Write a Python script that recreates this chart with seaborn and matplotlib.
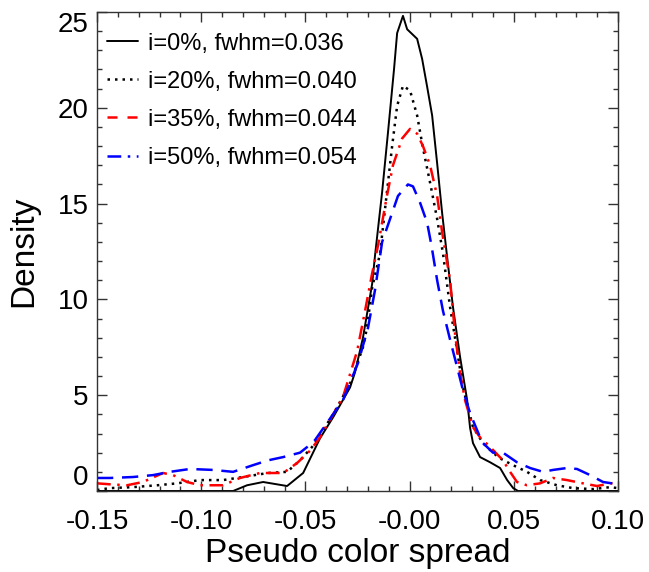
import numpy as np
import matplotlib
matplotlib.use("Agg")
import matplotlib.pyplot as plt
import seaborn as sns
import pandas as pd
from matplotlib.lines import Line2D

# ---------------------------------------------------
# Data (density curves)
# ---------------------------------------------------
labels = ["i=0%, fwhm=0.036", "i=20%, fwhm=0.040", "i=35%, fwhm=0.044", "i=50%, fwhm=0.054"]

x_i0 = [-0.15, -0.0847, -0.078, -0.0703, -0.0588, -0.0511, -0.043, -0.0367, -0.0286, -0.0262,
        -0.0224, -0.018, -0.0166, -0.0132, -0.0104, -0.0075, -0.006, -0.0032, -0.0012, 0.0036,
        0.006, 0.0084, 0.0108, 0.0132, 0.0156, 0.018, 0.0208, 0.0242, 0.0276, 0.029, 0.0304,
        0.0338, 0.0386, 0.0434, 0.0468, 0.0497, 0.052, 0.10]
y_i0 = [0.0, 0.0, 0.3, 0.47, 0.26, 0.94, 2.75, 3.85, 5.4, 6.2,
        8.0, 10.8, 12.3, 15.6, 18.7, 22.0, 23.9, 24.8, 24.1, 23.6,
        22.55, 21.1, 19.6, 17.1, 14.5, 12.2, 9.6, 7.0, 4.74, 3.3, 2.5,
        1.77, 1.5, 1.2, 0.57, 0.15, 0.0, 0.0]

x_i20 = [-0.15, -0.144, -0.133, -0.121, -0.1116, -0.1006, -0.0895, -0.08, -0.068, -0.0588,
         -0.0526, -0.0468, -0.0367, -0.0286, -0.0224, -0.0205, -0.018, -0.0142, -0.0109, -0.0084,
         -0.006, -0.0032, 0.0002, 0.0036, 0.0064, 0.0098, 0.0132, 0.016, 0.0194, 0.0228,
         0.0256, 0.0304, 0.0352, 0.04, 0.0434, 0.0496, 0.0563, 0.0626, 0.0707, 0.0784,
         0.088, 0.0962, 0.10]
y_i20 = [0.05, 0.15, 0.2, 0.3, 0.4, 0.57, 0.57, 0.73, 0.94, 1.0,
         1.6, 2.3, 4.0, 5.6, 7.5, 8.5, 10.6, 12.4, 15.6, 18.0,
         20.1, 21.15, 20.9, 19.6, 17.9, 16.1, 14.2, 12.4, 9.6, 7.3,
         5.4, 3.33, 2.5, 2.0, 1.7, 1.35, 1.0, 0.57, 0.3, 0.15,
         0.1, 0.2, 0.15]

x_i35 = [-0.15, -0.1438, -0.1356, -0.128, -0.1183, -0.1135, -0.1068, -0.1006, -0.0895, -0.0814,
         -0.0718, -0.0607, -0.054, -0.0478, -0.043, -0.032, -0.0252, -0.0214, -0.018, -0.0152,
         -0.0109, -0.008, -0.0036, 0.0002, 0.0036, 0.0064, 0.0098, 0.0132, 0.0156, 0.0194,
         0.0218, 0.0242, 0.0266, 0.0304, 0.0338, 0.0386, 0.0448, 0.0482, 0.0515, 0.0563,
         0.0626, 0.0688, 0.0755, 0.0832, 0.0899, 0.0947, 0.10]
y_i35 = [0.4, 0.35, 0.3, 0.47, 0.94, 0.83, 0.47, 0.3, 0.3, 0.68,
         0.94, 0.94, 1.46, 2.1, 2.8, 4.9, 7.3, 9.4, 11.35, 12.8,
         15.4, 17.0, 18.4, 18.9, 18.65, 18.0, 17.0, 15.4, 13.5, 11.0,
         8.2, 6.15, 4.74, 3.33, 2.8, 2.3, 1.6, 1.0, 0.47, 0.3,
         0.4, 0.68, 0.57, 0.4, 0.26, 0.36, 0.47]

x_i50 = [-0.15, -0.1438, -0.1327, -0.1231, -0.115, -0.1054, -0.0943, -0.0847, -0.0751, -0.068,
         -0.0607, -0.0526, -0.0468, -0.0454, -0.032, -0.0248, -0.02, -0.0166, -0.0132, -0.0094,
         -0.0056, -0.0008, 0.0016, 0.005, 0.0084, 0.0105, 0.0132, 0.016, 0.0194, 0.0228,
         0.0256, 0.029, 0.0338, 0.0352, 0.04, 0.0448, 0.0515, 0.0578, 0.064, 0.0688,
         0.0755, 0.0803, 0.0866, 0.0928, 0.0995, 0.10]
y_i50 = [0.68, 0.68, 0.73, 0.83, 1.0, 1.15, 1.1, 1.0, 1.35, 1.6,
         1.77, 2.0, 2.5, 2.66, 4.74, 6.67, 8.5, 10.5, 13.0, 14.2,
         15.4, 16.0, 15.9, 15.05, 14.0, 12.8, 11.0, 9.4, 7.9, 6.46,
         5.26, 4.06, 2.8, 2.5, 2.0, 2.0, 1.5, 1.2, 1.0, 1.1,
         1.2, 1.15, 0.83, 0.47, 0.36, 0.36]

x_ticks = [-0.15, -0.10, -0.05, 0.0, 0.05, 0.10]
x_ticklabels = ["-0.15", "-0.10", "-0.05", "-0.00", "0.05", "0.10"]
y_ticks = [0, 5, 10, 15, 20, 25]
y_ticklabels = ["0", "5", "10", "15", "20", "25"]

# ---------------------------------------------------
# Style
# ---------------------------------------------------
sns.set_style("ticks")
plt.rcParams["font.family"] = ["Liberation Sans", "DejaVu Sans"]
plt.rcParams["axes.unicode_minus"] = False
plt.rcParams["text.color"] = "black"
plt.rcParams["axes.labelcolor"] = "black"
plt.rcParams["xtick.color"] = "black"
plt.rcParams["ytick.color"] = "black"

fig = plt.figure(figsize=(6.49, 5.72), dpi=100)
ax = fig.add_axes([0.1495, 0.1416, 0.8028, 0.8374])

dotted = (0, (1, 2))
dashdot = (0, (5.5, 2.6, 1, 2.6))
dashed = (0, (6.5, 3.5))

sns.lineplot(x=x_i0, y=y_i0, ax=ax, color="black", lw=1.4, sort=False)
sns.lineplot(x=x_i20, y=y_i20, ax=ax, color="black", lw=1.8, linestyle=dotted, sort=False)
sns.lineplot(x=x_i35, y=y_i35, ax=ax, color="red", lw=1.8, linestyle=dashdot, sort=False)
sns.lineplot(x=x_i50, y=y_i50, ax=ax, color="blue", lw=1.8, linestyle=dashed, sort=False)

# legend (as in the original: styles for 35% / 50% appear swapped)
handles = [
    Line2D([], [], color="black", lw=1.4),
    Line2D([], [], color="black", lw=1.8, linestyle=dotted),
    Line2D([], [], color="red", lw=1.8, linestyle=(0, (4, 4))),
    Line2D([], [], color="blue", lw=1.8, linestyle=dashdot),
]
leg = ax.legend(handles, labels, loc="upper left", bbox_to_anchor=(0.019, 0.957),
                frameon=False, fontsize=17, handlelength=1.3, handletextpad=0.45,
                labelspacing=0.68, borderpad=0, borderaxespad=0)
for t in leg.get_texts():
    t.set_color("black")

# ---------------------------------------------------
# Axes
# ---------------------------------------------------
ax.set_xlim(-0.15, 0.10)
ax.set_ylim(0, 25)
ax.set_xticks(x_ticks)
ax.set_xticklabels(x_ticklabels)
ax.set_yticks(y_ticks)
ax.set_yticklabels(y_ticklabels)
ax.set_xticks(np.arange(-0.15, 0.1001, 0.01), minor=True)
ax.set_yticks(np.arange(0, 25.01, 1), minor=True)

ax.tick_params(which="both", direction="in", top=True, right=True, width=1,
               color="#333333", labelcolor="black", labelsize=20)
ax.tick_params(which="major", length=7.5)
ax.tick_params(which="minor", length=3.8)
ax.tick_params(axis="x", which="major", pad=13)
ax.tick_params(axis="y", which="major", pad=6)

for s in ax.spines.values():
    s.set_visible(True)
    s.set_color("#333333")
    s.set_linewidth(1)

# end labels on the y axis sit inside the box, as in the original
ylabs = ax.get_yticklabels()
ylabs[0].set_va("bottom")
ylabs[-1].set_va("top")

ax.set_xlabel("Pseudo color spread", fontsize=24, labelpad=2, color="black")
ax.set_ylabel("Density", fontsize=24, labelpad=13, color="black")

fig.savefig("out.png", dpi=100)
